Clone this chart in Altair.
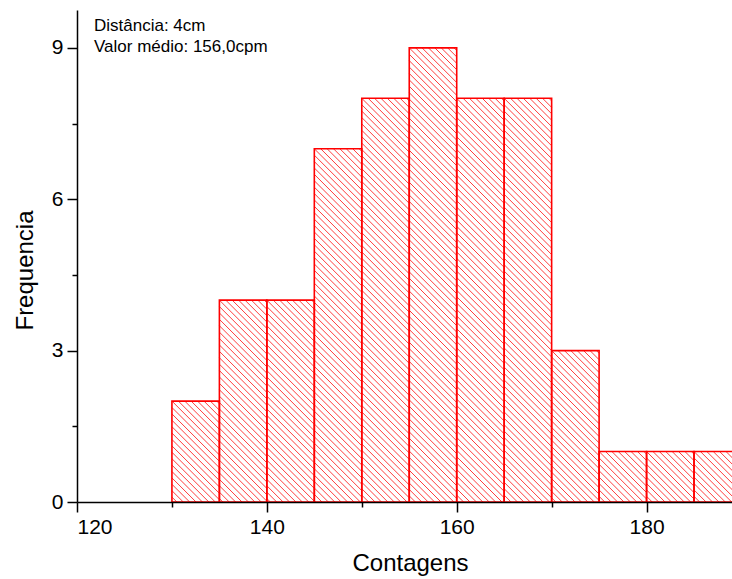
import altair as alt
import pandas as pd

# Histogram of counts (bins of width 5 cpm)
bin_start = [130, 135, 140, 145, 150, 155, 160, 165, 170, 175, 180, 185]
frequency = [2, 4, 4, 7, 8, 9, 8, 8, 3, 1, 1, 1]
bin_width = 5

annotation = ["Distância: 4cm", "Valor médio: 156,0cpm"]

x_min, x_max = 120, 189
y_min, y_max = 0, 9.75
W, H = 655, 492
FONT = "Liberation Sans"
RED = "#ff0000"

bars = pd.DataFrame({
    "start": bin_start,
    "end": [b + bin_width for b in bin_start],
    "freq": frequency,
})

# Diagonal hatch segments clipped to each bar, 45 degrees on screen
sx = W / (x_max - x_min)
sy = H / (y_max - y_min)
spacing = 6.4
segs = []
for b, f in zip(bin_start, frequency):
    u0 = (b - x_min) * sx
    u1 = (b + bin_width - x_min) * sx
    vh = f * sy
    c0 = u0 + vh
    k_lo = -int(vh // spacing) - 1
    k_hi = int((u1 - u0) // spacing) + 1
    for k in range(k_lo, k_hi + 1):
        c = c0 + k * spacing
        ua = max(u0, c - vh)
        ub = min(u1, c)
        if ub - ua > 0.3:
            segs.append({
                "x": x_min + ua / sx, "y": (c - ua) / sy,
                "x2": x_min + ub / sx, "y2": (c - ub) / sy,
            })
hatch = pd.DataFrame(segs)

x_scale = alt.Scale(domain=[x_min, x_max], nice=False, zero=False)
y_scale = alt.Scale(domain=[y_min, y_max], nice=False)

x_axis = alt.Axis(
    values=[120, 130, 140, 150, 160, 170, 180],
    labelExpr="datum.value % 20 == 0 ? datum.label : ''",
    tickSize={"condition": {"test": "datum.value % 20 == 0", "value": 10}, "value": 5},
    title="Contagens", titleX=333, titleY=68, titleBaseline="alphabetic",
    grid=False, zindex=1,
)
y_axis = alt.Axis(
    values=[0, 1.5, 3, 4.5, 6, 7.5, 9],
    labelExpr="datum.value % 3 == 0 ? datum.label : ''",
    tickSize={"condition": {"test": "datum.value % 3 == 0", "value": 10}, "value": 5},
    title="Frequencia", titleX=-45, titleY=260, titleBaseline="alphabetic",
    titleAngle=270, titleAlign="center",
    grid=False, zindex=1,
)

hatch_layer = alt.Chart(hatch).mark_rule(
    color=RED, strokeWidth=0.9, opacity=0.85, clip=True
).encode(
    x=alt.X("x:Q", scale=x_scale, axis=x_axis),
    x2="x2:Q",
    y=alt.Y("y:Q", scale=y_scale, axis=y_axis),
    y2="y2:Q",
)

bar_layer = alt.Chart(bars).mark_rect(
    fill=None, fillOpacity=0, stroke=RED, strokeWidth=1.6, clip=True
).encode(
    x=alt.X("start:Q", scale=x_scale, axis=x_axis),
    x2="end:Q",
    y=alt.Y("freq:Q", scale=y_scale, axis=y_axis),
    y2=alt.datum(0),
)

note = alt.Chart(pd.DataFrame({"t": [annotation]})).mark_text(
    align="left", baseline="alphabetic", font=FONT, fontSize=17,
    lineHeight=21.6, color="black",
).encode(
    text="t",
    x=alt.value(17),
    y=alt.value(20.5),
)

chart = alt.layer(hatch_layer, bar_layer, note).properties(
    width=W, height=H,
    autosize=alt.AutoSizeParams(type="none"),
    padding={"left": 77, "top": 10, "right": 0, "bottom": 77},
    background="white",
).configure_view(stroke=None).configure_axis(
    domainColor="black", domainWidth=1.5, tickColor="black", tickWidth=1.5,
    labelFont=FONT, labelFontSize=21, labelColor="black", labelPadding=4,
    titleFont=FONT, titleFontSize=24, titleFontWeight="normal", titleColor="black",
)

chart.save("out.html", embed_options={"renderer": "svg", "actions": False})
